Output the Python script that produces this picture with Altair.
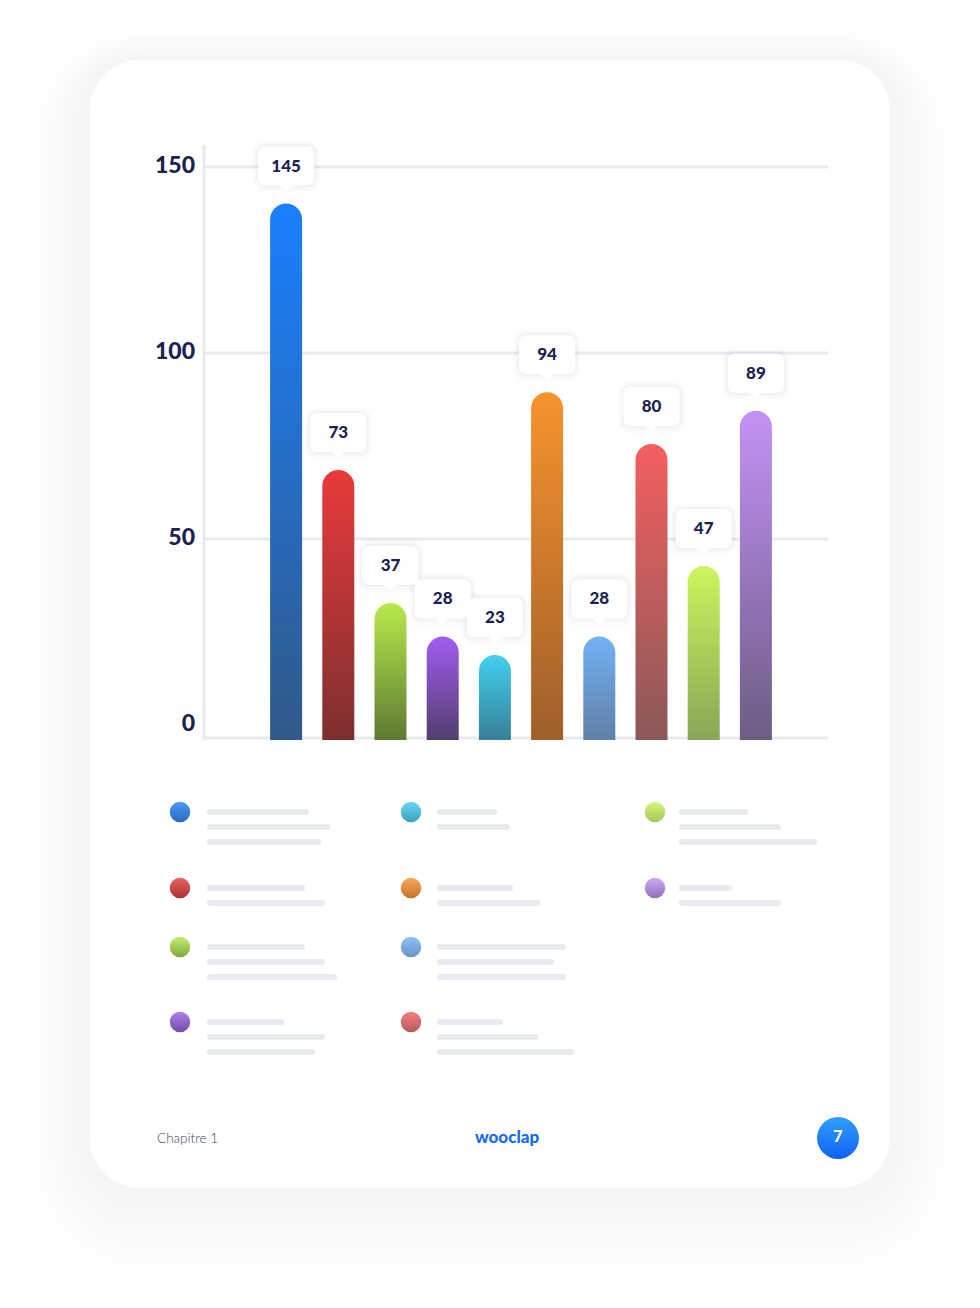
import altair as alt
import pandas as pd

# ---------------- data ----------------
CATEGORIES = [f"Élément {i}" for i in range(1, 11)]
VALUES = [145, 73, 37, 28, 23, 94, 28, 80, 47, 89]
TOP_COLORS = ["#1a80ff", "#ea3a3a", "#b8ea4b", "#a25cf2", "#42d0f0",
              "#f8932e", "#72b2f6", "#f45f5f", "#cbf65c", "#c392f6"]
BOTTOM_COLORS = ["#31598a", "#7d2f30", "#5e7a33", "#523f6e", "#387f96",
                 "#9e5f2a", "#5f80a6", "#8a5959", "#88a656", "#6d5c84"]
AXIS_TICKS = [0, 50, 100, 150]
GRID_VALUES = [50, 100, 150]
# placeholder text-line lengths of each legend entry (same order as the bars)
LEGEND_WIDTHS = [
    [102, 123, 114], [98, 118], [98, 118, 130], [77, 118, 108],
    [60, 73], [76, 103], [129, 117, 129], [66, 101, 137],
    [69, 102, 138], [53, 102],
]
FOOTER_LEFT = "Chapitre 1"
FOOTER_BRAND = "wooclap"
PAGE_NUMBER = "7"

# ---------------- layout / style ----------------
W, H = 980, 1308
NAVY = "#1b2150"
GRIDC = "#e7ebf0"
LINEC = "#e8ebef"
FONT = "Lato"

X_SCALE = alt.Scale(type="band", domain=CATEGORIES, range=[260, 782],
                    paddingInner=0, paddingOuter=0)
BAR_Y = alt.Scale(domain=[0, 150], range=[740, 185], nice=False, zero=False)
GRID_Y = alt.Scale(domain=[0, 150], range=[725, 167], nice=False, zero=False)


def vgrad(top, bottom):
    return {"gradient": "linear", "x1": 0, "y1": 0, "x2": 0, "y2": 1,
            "stops": [{"offset": 0, "color": top}, {"offset": 1, "color": bottom}]}


def mix(c1, c2, t):
    a = [int(c1[i:i + 2], 16) for i in (1, 3, 5)]
    b = [int(c2[i:i + 2], 16) for i in (1, 3, 5)]
    return "#" + "".join(f"{round(x + (y - x) * t):02x}" for x, y in zip(a, b))


one = pd.DataFrame({"k": [0]})
df = pd.DataFrame({"cat": CATEGORIES, "v": VALUES})
layers = []

# card shadow + card
for k in range(1, 11):
    e = 6 * k
    off = 3 * k
    layers.append(
        alt.Chart(one).mark_rect(color="#3a3d4a", opacity=0.0055, cornerRadius=50 + e).encode(
            x=alt.value(90 - e), x2=alt.value(890 + e),
            y=alt.value(60 - e + off), y2=alt.value(1188 + e + off)))
layers.append(
    alt.Chart(one).mark_rect(color="white", cornerRadius=50).encode(
        x=alt.value(90), x2=alt.value(890), y=alt.value(60), y2=alt.value(1188)))

# grid lines, axis lines, tick labels
layers.append(
    alt.Chart(pd.DataFrame({"t": GRID_VALUES})).mark_rule(color=GRIDC, strokeWidth=3).encode(
        y=alt.Y("t:Q", scale=GRID_Y, axis=None), x=alt.value(204), x2=alt.value(828)))
layers.append(
    alt.Chart(one).mark_rule(color=GRIDC, strokeWidth=3).encode(
        x=alt.value(204), y=alt.value(145), y2=alt.value(740)))
layers.append(
    alt.Chart(one).mark_rule(color=GRIDC, strokeWidth=3).encode(
        x=alt.value(203), x2=alt.value(828), y=alt.value(738)))
layers.append(
    alt.Chart(pd.DataFrame({"t": AXIS_TICKS})).mark_text(
        align="right", baseline="middle", dy=-1, font=FONT, fontSize=23,
        fontWeight=900, color=NAVY).encode(
        x=alt.value(195), y=alt.Y("t:Q", scale=GRID_Y, axis=None),
        text=alt.Text("t:Q", format="d")))

# bars
for i in range(len(VALUES)):
    layers.append(
        alt.Chart(df.iloc[[i]]).mark_bar(
            width=32, cornerRadiusTopLeft=16, cornerRadiusTopRight=16,
            color=vgrad(TOP_COLORS[i], BOTTOM_COLORS[i])).encode(
            x=alt.X("cat:N", scale=X_SCALE, axis=None),
            y=alt.Y("v:Q", scale=BAR_Y, axis=None),
            y2=alt.datum(0)))

# value callouts
enc = dict(x=alt.X("cat:N", scale=X_SCALE, axis=None),
           y=alt.Y("v:Q", scale=BAR_Y, axis=None))
layers.append(alt.Chart(df).mark_bar(width=68, cornerRadius=13, color="#1b2150", opacity=0.012,
                                     yOffset=-10, y2Offset=-63).encode(**enc, y2=alt.Y2("v:Q")))
layers.append(alt.Chart(df).mark_bar(width=64, cornerRadius=11, color="#1b2150", opacity=0.018,
                                     yOffset=-13, y2Offset=-61).encode(**enc, y2=alt.Y2("v:Q")))
layers.append(alt.Chart(df).mark_bar(width=60, cornerRadius=9, color="#1b2150", opacity=0.022,
                                     yOffset=-16, y2Offset=-59).encode(**enc, y2=alt.Y2("v:Q")))
layers.append(alt.Chart(df).mark_bar(width=56, cornerRadius=7, color="white",
                                     yOffset=-18, y2Offset=-57).encode(**enc, y2=alt.Y2("v:Q")))
layers.append(alt.Chart(df).mark_point(shape="M-1,0L1,0L0,1Z", size=196, filled=True,
                                       color="white", opacity=1, strokeWidth=0,
                                       yOffset=-18.5).encode(**enc))
layers.append(alt.Chart(df).mark_text(baseline="middle", yOffset=-37, font=FONT, fontSize=17,
                                      fontWeight=900, color=NAVY).encode(
    **enc, text=alt.Text("v:Q", format="d")))

# legend
COL_DOT_X = [180, 411, 655]
COL_TEXT_X = [207, 437, 679]
ROW_Y = [812, 888, 947, 1022]
rows = []
for idx, widths in enumerate(LEGEND_WIDTHS):
    c, r = divmod(idx, 4)
    for j, wdt in enumerate(widths):
        rows.append({"x": COL_TEXT_X[c] + 3, "x2": COL_TEXT_X[c] + wdt - 3,
                     "y": ROW_Y[r] + 15 * j})
    top = mix(TOP_COLORS[idx], "#ffffff", 0.2)
    bottom = mix(TOP_COLORS[idx], BOTTOM_COLORS[idx], 0.6)
    layers.append(
        alt.Chart(one).mark_circle(size=420, opacity=1, color=vgrad(top, bottom)).encode(
            x=alt.value(COL_DOT_X[c]), y=alt.value(ROW_Y[r])))
layers.append(
    alt.Chart(pd.DataFrame(rows)).mark_rule(color=LINEC, strokeWidth=6, strokeCap="round").encode(
        x=alt.X("x:Q", scale=None, axis=None), x2="x2:Q",
        y=alt.Y("y:Q", scale=None, axis=None)))

# footer
layers.append(alt.Chart(one).mark_text(align="left", baseline="middle", font=FONT, fontSize=13.5,
                                       fontWeight=300, color="#3c4366").encode(
    x=alt.value(157), y=alt.value(1139), text=alt.value(FOOTER_LEFT)))
layers.append(alt.Chart(one).mark_text(align="center", baseline="middle", font=FONT, fontSize=17,
                                       fontWeight=900, color="#1668ff").encode(
    x=alt.value(507), y=alt.value(1138), text=alt.value(FOOTER_BRAND)))
layers.append(alt.Chart(one).mark_circle(size=1764, opacity=1,
                                         color=vgrad("#2ea0ff", "#1262f2")).encode(
    x=alt.value(838), y=alt.value(1138)))
layers.append(alt.Chart(one).mark_text(align="center", baseline="middle", font=FONT, fontSize=16,
                                       fontWeight=900, color="white").encode(
    x=alt.value(838), y=alt.value(1137), text=alt.value(PAGE_NUMBER)))

chart = alt.layer(*layers).resolve_scale(x="independent", y="independent").properties(
    width=W, height=H, autosize=alt.AutoSizeParams(type="none"), padding=0,
    background="white").configure_view(stroke=None)

chart.save("out.html", embed_options={"renderer": "svg", "actions": False})
